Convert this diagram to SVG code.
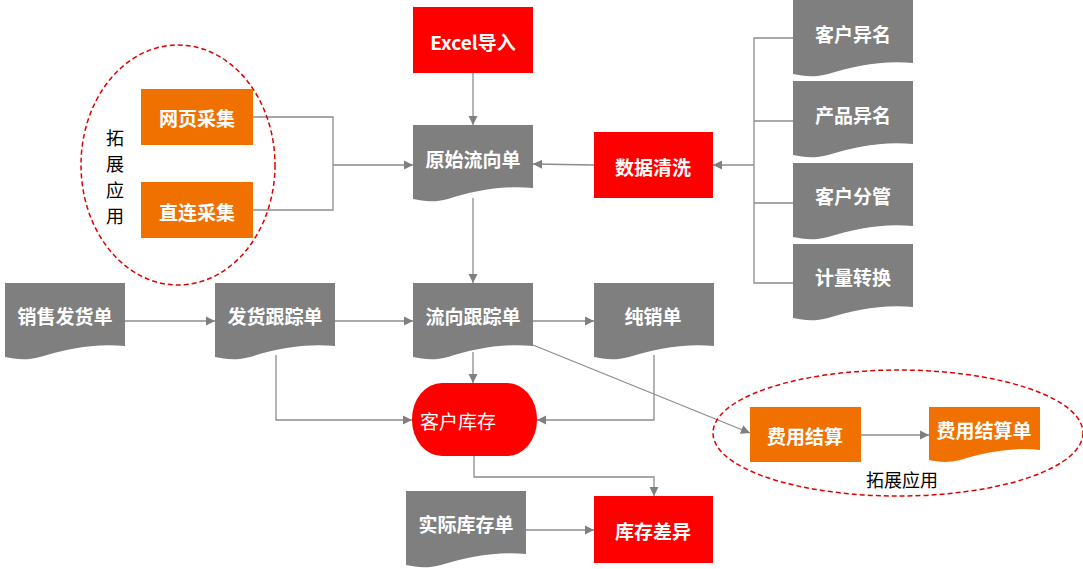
<svg xmlns="http://www.w3.org/2000/svg" width="1083" height="569" viewBox="0 0 1083 569">
<defs>
<marker id="a" viewBox="0 0 10 10" refX="10" refY="5" markerWidth="7" markerHeight="7" orient="auto"><path d="M0,0 L10,5 L0,10 Z" fill="#7f7f7f"/></marker>
<path id="doc" d="M0,0 H120 V63 C90,60 60,66 35,74 C20,78 10,76 0,74 Z"/>
</defs>
<style>
text{font-family:"Noto Sans CJK SC","Liberation Sans",sans-serif;font-size:19px;fill:#fff;font-weight:bold;text-anchor:middle;dominant-baseline:central}
.g{fill:#7f7f7f}.r{fill:#ff0000}.o{fill:#f07000}
.c{fill:none;stroke:#8c8c8c;stroke-width:1.3}
.e{fill:none;stroke:#e00000;stroke-width:1.5;stroke-dasharray:5,3}
.k{fill:#000;font-weight:normal;font-size:18px}
</style>
<rect width="1083" height="569" fill="#fff"/>
<g id="connectors" class="c">
<path d="M473,73 V125" marker-end="url(#a)"/>
<path d="M253,117 H333 V210 H253 M333,165 H413" marker-end="url(#a)"/>
<path d="M594,165 L533,164" marker-end="url(#a)"/>
<path d="M793,38 H754 V283 H793 M754,121 H793 M754,203 H793"/>
<path d="M754,165 H713" marker-end="url(#a)"/>
<path d="M473,198 V283" marker-end="url(#a)"/>
<path d="M125,321 H215" marker-end="url(#a)"/>
<path d="M335,321 H413" marker-end="url(#a)"/>
<path d="M533,321 H594" marker-end="url(#a)"/>
<path d="M473,352 V383" marker-end="url(#a)"/>
<path d="M276,355 V420 H412" marker-end="url(#a)"/>
<path d="M654,355 V420 H537" marker-end="url(#a)"/>
<path d="M533,345 L750,433" marker-end="url(#a)"/>
<path d="M474,456 V477 H654 V496" marker-end="url(#a)"/>
<path d="M526,530 H594" marker-end="url(#a)"/>
<path d="M861,435 H929" marker-end="url(#a)"/>
</g>
<g id="ext1"><ellipse class="e" cx="178" cy="165" rx="97" ry="120"/>
<text class="k" x="115" y="137">拓</text><text class="k" x="115" y="163">展</text><text class="k" x="115" y="189">应</text><text class="k" x="115" y="215">用</text></g>
<g id="ext2"><ellipse class="e" cx="898" cy="433" rx="185" ry="63"/><text class="k" x="902" y="479">拓展应用</text></g>
<g id="excel"><rect class="r" x="413" y="7" width="120" height="66"/><text x="473" y="41">Excel导入</text></g>
<g id="yuanshi"><use href="#doc" class="g" x="413" y="125"/><text x="473" y="158">原始流向单</text></g>
<g id="qingxi"><rect class="r" x="594" y="132" width="119" height="66"/><text x="653" y="166">数据清洗</text></g>
<g id="wangye"><rect class="o" x="141" y="89" width="112" height="56"/><text x="197" y="117">网页采集</text></g>
<g id="zhilian"><rect class="o" x="141" y="182" width="112" height="56"/><text x="197" y="211">直连采集</text></g>
<g id="d1"><use href="#doc" class="g" x="793" y="0"/><text x="853" y="33">客户异名</text></g>
<g id="d2"><use href="#doc" class="g" x="793" y="81"/><text x="853" y="114">产品异名</text></g>
<g id="d3"><use href="#doc" class="g" x="793" y="163"/><text x="853" y="195">客户分管</text></g>
<g id="d4"><use href="#doc" class="g" x="793" y="244"/><text x="853" y="276">计量转换</text></g>
<g id="xiaoshou"><use href="#doc" class="g" x="5" y="283"/><text x="65" y="315">销售发货单</text></g>
<g id="fahuo"><use href="#doc" class="g" x="215" y="283"/><text x="275" y="315">发货跟踪单</text></g>
<g id="liuxiang"><use href="#doc" class="g" x="413" y="283"/><text x="473" y="315">流向跟踪单</text></g>
<g id="chunxiao"><use href="#doc" class="g" x="594" y="283"/><text x="653" y="315">纯销单</text></g>
<g id="kucun"><rect class="r" x="412" y="383" width="125" height="73" rx="30" ry="36"/><text x="420" y="420" style="text-anchor:start;font-weight:normal">客户库存</text></g>
<g id="shiji"><use href="#doc" class="g" x="406" y="491"/><text x="466" y="523">实际库存单</text></g>
<g id="chayi"><rect class="r" x="594" y="496" width="119" height="67"/><text x="653" y="530">库存差异</text></g>
<g id="feiyong"><rect class="o" x="750" y="407" width="111" height="55"/><text x="805" y="435">费用结算</text></g>
<g id="feiyongdan"><path class="o" d="M929,407 H1040 V450 C1012,447 985,452 960,460 C948,463 938,462 929,460 Z"/><text x="984" y="429">费用结算单</text></g>
</svg>
